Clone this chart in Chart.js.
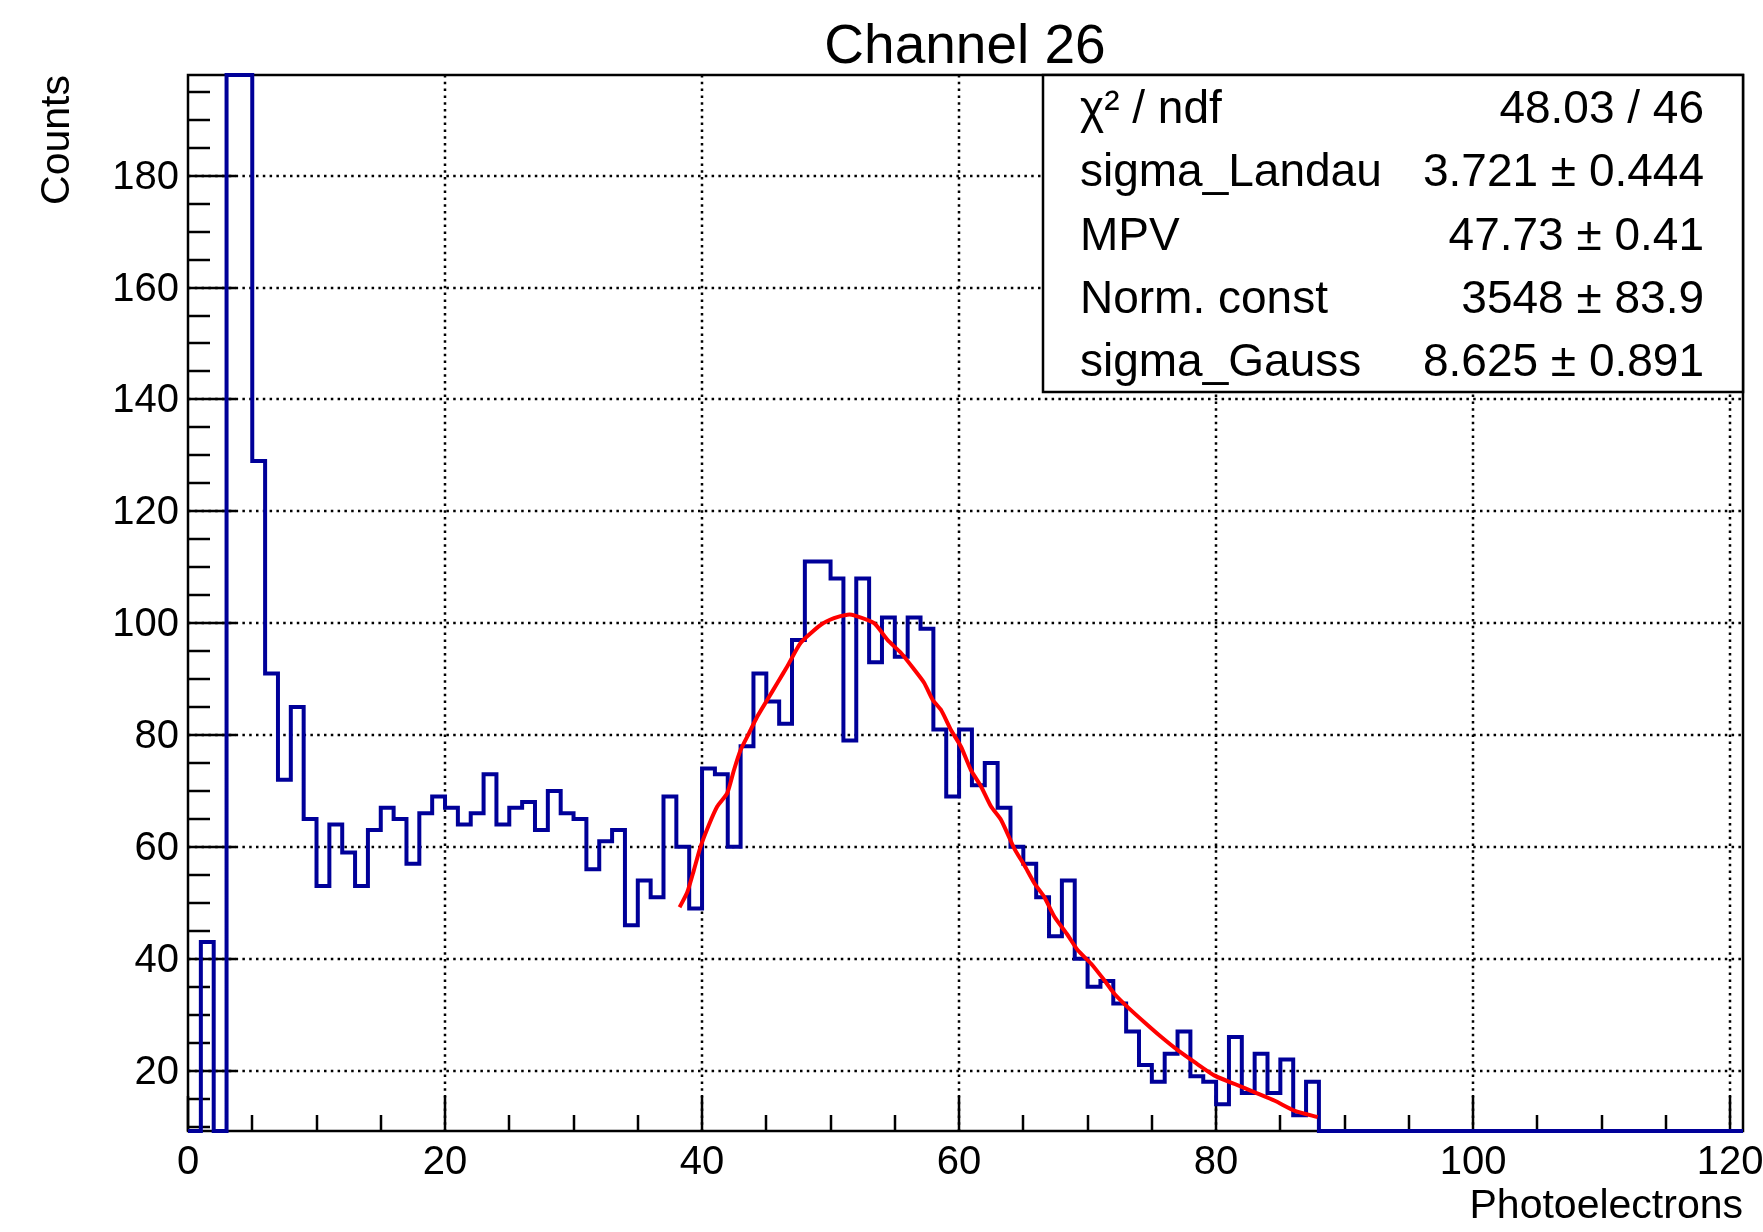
<!DOCTYPE html>
<html>
<head>
<meta charset="utf-8">
<script src="https://cdn.jsdelivr.net/npm/chart.js@4.4.1/dist/chart.umd.min.js"></script>
<style>
html,body{margin:0;padding:0;background:#fff;}
#wrap{width:1763px;height:1232px;position:relative;}
</style>
</head>
<body>
<div id="wrap"><canvas id="c" width="1763" height="1232"></canvas></div>
<script>
// ---- Data ----
const chartTitle = "Channel 26";
const xAxisTitle = "Photoelectrons";
const yAxisTitle = "Counts";
const binWidth = 1;
const xMin = 0, xMax = 121;
const yMin = 9.2, yMax = 198;
const xTickValues = [0, 20, 40, 60, 80, 100, 120];
const yTickValues = [20, 40, 60, 80, 100, 120, 140, 160, 180];
// counts per bin, bin i covers [i, i+1)
const binCounts = [
  0, 43, 0, 320, 240, 129, 91, 72, 85, 65,
  53, 64, 59, 53, 63, 67, 65, 57, 66, 69,
  67, 64, 66, 73, 64, 67, 68, 63, 70, 66,
  65, 56, 61, 63, 46, 54, 51, 69, 60, 49,
  74, 73, 60, 78, 91, 86, 82, 97, 111, 111,
  108, 79, 108, 93, 101, 94, 101, 99, 81, 69,
  81, 71, 75, 67, 60, 57, 51, 44, 54, 40,
  35, 36, 32, 27, 21, 18, 23, 27, 19, 18,
  14, 26, 16, 23, 16, 22, 12, 18, 0, 0,
  0, 0, 0, 0, 0, 0, 0, 0, 0, 0,
  0, 0, 0, 0, 0, 0, 0, 0, 0, 0,
  0, 0, 0, 0, 0, 0, 0, 0, 0, 0,
  0
];
// fit curve
const fitX = [38.25, 38.85, 39.36, 39.88, 40.53, 41.18, 41.96, 42.48, 43.0, 43.65, 44.3, 45.08, 45.86, 46.64, 47.68, 49.24, 50.27, 51.31, 51.83, 53.39, 54.43, 55.47, 56.51, 57.29, 57.94, 58.59, 59.37, 60.15, 60.93, 61.71, 62.49, 63.27, 64.3, 65.08, 65.86, 66.64, 67.42, 68.46, 69.24, 70.28, 71.32, 72.1, 73.14, 74.44, 75.74, 77.04, 78.33, 79.89, 81.45, 83.01, 84.57, 86.13, 87.9];
const fitY = [49.2, 51.9, 55.8, 60.0, 63.9, 67.2, 69.6, 73.7, 77.3, 80.3, 83.3, 86.3, 89.3, 92.3, 96.5, 99.7, 100.9, 101.5, 101.4, 100.0, 97.0, 94.7, 91.7, 89.3, 86.3, 84.5, 80.9, 77.9, 73.7, 70.8, 67.2, 64.8, 59.7, 56.7, 53.5, 51.0, 47.5, 44.2, 41.5, 39.1, 36.1, 33.7, 31.3, 28.6, 26.0, 23.6, 21.5, 19.1, 17.6, 16.1, 14.6, 12.8, 11.7];
const statLabels = ["\u03C7\u00B2 / ndf", "sigma_Landau", "MPV", "Norm. const", "sigma_Gauss"];
const statValues = ["48.03 / 46", "3.721 \u00B1 0.444", "47.73 \u00B1 0.41", "3548 \u00B1 83.9", "8.625 \u00B1 0.891"];

// ---- Build library data ----
const clampY = v => Math.min(Math.max(v, yMin), yMax);
const histPoints = binCounts.map((v, i) => ({x: xMin + i * binWidth, y: clampY(v)}));
histPoints.push({x: xMin + binCounts.length * binWidth, y: clampY(binCounts[binCounts.length - 1])});
const fitPoints = fitX.map((x, i) => ({x: x, y: fitY[i]}));

const FONT = '"Liberation Sans", Arial, Helvetica, sans-serif';

const rootStyle = {
  id: 'rootStyle',
  beforeDatasetsDraw(chart) {
    const {ctx, chartArea: a, scales: {x, y}} = chart;
    ctx.save();
    // dotted grid
    ctx.strokeStyle = '#000';
    ctx.lineWidth = 2.5;
    ctx.setLineDash([2.5, 4.3]);
    for (const v of xTickValues) {
      const px = Math.round(x.getPixelForValue(v));
      if (px <= a.left + 2 || px >= a.right - 2) continue;
      ctx.beginPath(); ctx.moveTo(px, a.top); ctx.lineTo(px, a.bottom); ctx.stroke();
    }
    for (const v of yTickValues) {
      const py = Math.round(y.getPixelForValue(v));
      ctx.beginPath(); ctx.moveTo(a.left, py); ctx.lineTo(a.right, py); ctx.stroke();
    }
    ctx.setLineDash([]);
    // frame
    ctx.lineWidth = 2.5;
    ctx.strokeRect(a.left, a.top, a.right - a.left, a.bottom - a.top);
    // x ticks (inside)
    for (let v = 0; v <= xMax; v += 5) {
      const px = Math.round(x.getPixelForValue(v));
      const major = v % 20 === 0;
      const len = major ? 35 : 16;
      ctx.beginPath(); ctx.moveTo(px, a.bottom); ctx.lineTo(px, a.bottom - len); ctx.stroke();
    }
    // y ticks (inside)
    for (let v = 10; v <= yMax; v += 5) {
      const py = Math.round(y.getPixelForValue(v));
      const major = v % 20 === 0;
      const len = major ? 48 : 22;
      ctx.beginPath(); ctx.moveTo(a.left, py); ctx.lineTo(a.left + len, py); ctx.stroke();
    }
    ctx.restore();
  },
  afterDatasetsDraw(chart) {
    const {ctx, chartArea: a, scales: {x, y}} = chart;
    ctx.save();
    ctx.fillStyle = '#000';
    // tick labels
    ctx.font = '40px ' + FONT;
    ctx.textAlign = 'center';
    ctx.textBaseline = 'alphabetic';
    for (const v of xTickValues) {
      ctx.fillText(String(v), x.getPixelForValue(v), 1174);
    }
    ctx.textAlign = 'right';
    ctx.textBaseline = 'middle';
    for (const v of yTickValues) {
      ctx.fillText(String(v), 179, y.getPixelForValue(v) + 2);
    }
    // axis titles
    ctx.font = '41px ' + FONT;
    ctx.textAlign = 'right';
    ctx.textBaseline = 'alphabetic';
    ctx.fillText(xAxisTitle, a.right, 1218);
    ctx.save();
    ctx.translate(69, a.top);
    ctx.rotate(-Math.PI / 2);
    ctx.textAlign = 'right';
    ctx.fillText(yAxisTitle, 0, 0);
    ctx.restore();
    // title
    ctx.font = '55px ' + FONT;
    ctx.textAlign = 'center';
    ctx.fillText(chartTitle, 965, 63);
    // stats box
    const bx = 1043, by = a.top, bw = a.right - 1043, bh = 392 - a.top;
    ctx.fillStyle = '#fff';
    ctx.fillRect(bx, by, bw, bh);
    ctx.strokeStyle = '#000';
    ctx.lineWidth = 2.5;
    ctx.strokeRect(bx, by, bw, bh);
    ctx.fillStyle = '#000';
    ctx.font = '46px ' + FONT;
    const rowH = bh / statLabels.length;
    for (let i = 0; i < statLabels.length; i++) {
      const base = by + rowH * (i + 0.5) + 16;
      ctx.textAlign = 'left';
      ctx.fillText(statLabels[i], 1080, base);
      ctx.textAlign = 'right';
      ctx.fillText(statValues[i], 1704, base);
    }
    ctx.restore();
  }
};

new Chart(document.getElementById('c'), {
  type: 'line',
  data: {
    datasets: [
      {
        label: 'hist',
        data: histPoints,
        stepped: 'before',
        borderColor: '#000099',
        borderWidth: 4,
        pointRadius: 0,
        fill: false,
        clip: 4,
        order: 2
      },
      {
        label: 'fit',
        data: fitPoints,
        borderColor: '#ff0000',
        borderWidth: 4,
        pointRadius: 0,
        tension: 0.2,
        fill: false,
        order: 1
      }
    ]
  },
  options: {
    responsive: false,
    animation: false,
    layout: {padding: {left: 188, top: 75, right: 20, bottom: 101}},
    plugins: {legend: {display: false}, tooltip: {enabled: false}, title: {display: false}},
    scales: {
      x: {type: 'linear', min: xMin, max: xMax, display: false},
      y: {type: 'linear', min: yMin, max: yMax, display: false}
    }
  },
  plugins: [rootStyle]
});
</script>
</body>
</html>
